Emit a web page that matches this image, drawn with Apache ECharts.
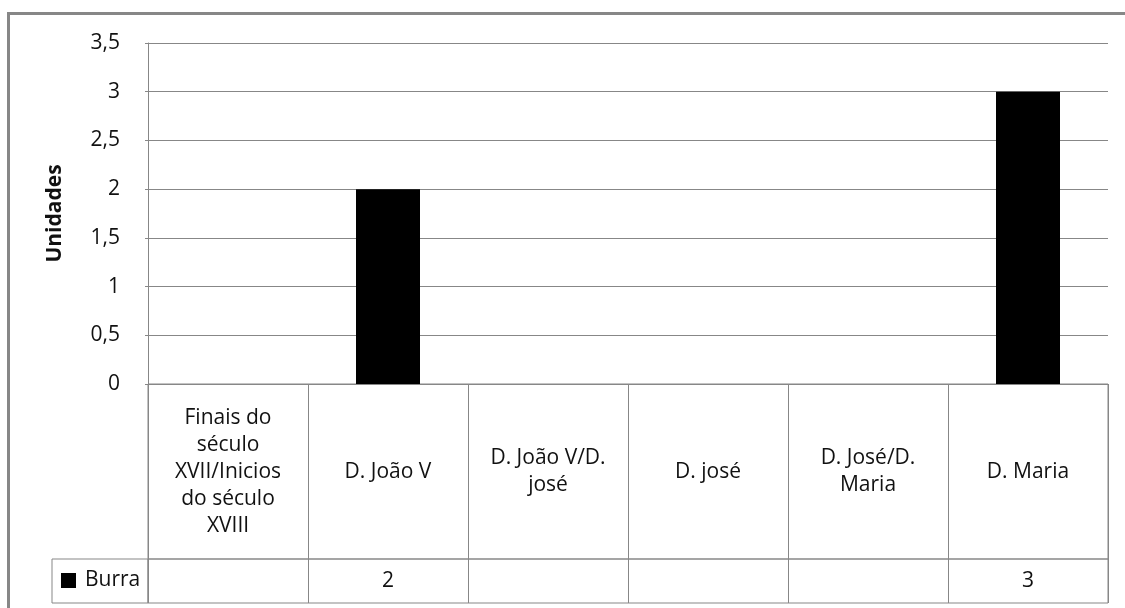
<!DOCTYPE html>
<html>
<head>
<meta charset="utf-8">
<script src="https://cdn.jsdelivr.net/npm/echarts@6/dist/echarts.min.js"></script>
<style>
  html, body { margin: 0; padding: 0; background: #fff; overflow: hidden; }
  #frame { position: absolute; left: 7px; top: 12px; width: 1300px; height: 800px;
           border-top: 3px solid #878787; border-left: 3px solid #878787; }
  #chart { position: absolute; left: 0; top: 0; width: 1125px; height: 608px; }
</style>
</head>
<body>
<div id="frame"></div>
<div id="chart"></div>
<script>
// ---- data ----
const categories = [
  'Finais do século XVII/Inicios do século XVIII',
  'D. João V',
  'D. João V/D. josé',
  'D. josé',
  'D. José/D. Maria',
  'D. Maria'
];
const categoryLabels = [
  'Finais do\nséculo\nXVII/Inicios\ndo século\nXVIII',
  'D. João V',
  'D. João V/D.\njosé',
  'D. josé',
  'D. José/D.\nMaria',
  'D. Maria'
];
const seriesName = 'Burra';
const burraValues = [null, 2, null, null, null, 3];
const yTicks = { min: 0, max: 3.5, interval: 0.5 };
const yAxisTitle = 'Unidades';

// ---- chart ----
const GRAY = '#878787';
const FONT = 'Open Sans';
const FS = 21;
const TXT = '#111';
const chart = echarts.init(document.getElementById('chart'), null, { renderer: 'canvas' });

const hiddenAxis = (gi, type) => ({
  gridIndex: gi, type: type, show: false, min: 0, max: 1,
  axisLine: { show: false }, axisTick: { show: false }, axisLabel: { show: false }, splitLine: { show: false }
});

chart.setOption({
  animation: false,
  backgroundColor: 'transparent',
  textStyle: { fontFamily: FONT, color: TXT },
  legend: {
    data: [seriesName],
    left: 61, top: 570, padding: 0,
    icon: 'rect', itemWidth: 15, itemHeight: 15,
    textStyle: { fontFamily: FONT, fontSize: FS, color: TXT, padding: [0, 0, 0, 4] },
    selectedMode: false
  },
  grid: [
    { left: 148, right: 17, top: 43, height: 341 },
    { left: 148, right: 17, top: 384, height: 175, show: true, borderColor: GRAY, borderWidth: 1 },
    { left: 148, right: 17, top: 559, height: 44, show: true, borderColor: GRAY, borderWidth: 1 },
    { left: 52, width: 96, top: 559, height: 44, show: true, borderColor: GRAY, borderWidth: 1 }
  ],
  xAxis: [
    { gridIndex: 0, type: 'category', data: categories,
      axisLine: { show: true, lineStyle: { color: GRAY } },
      axisTick: { show: false }, axisLabel: { show: false }, splitLine: { show: false } },
    { gridIndex: 1, type: 'category', data: categoryLabels, position: 'bottom',
      axisLine: { show: false }, axisTick: { show: false },
      splitLine: { show: true, lineStyle: { color: GRAY, width: 1 } },
      axisLabel: { inside: true, margin: 87, verticalAlign: 'middle', align: 'center',
                   fontFamily: FONT, fontSize: FS, lineHeight: 27, color: TXT, interval: 0 } },
    { gridIndex: 2, type: 'category', data: categories, position: 'bottom',
      axisLine: { show: false }, axisTick: { show: false },
      splitLine: { show: true, lineStyle: { color: GRAY, width: 1 } },
      axisLabel: { inside: true, margin: 22, verticalAlign: 'middle', align: 'center',
                   fontFamily: FONT, fontSize: FS, color: TXT, interval: 0,
                   formatter: (v, i) => (burraValues[i] == null ? '' : String(burraValues[i]).replace('.', ',')) } },
    hiddenAxis(3, 'value')
  ],
  yAxis: [
    { gridIndex: 0, type: 'value', min: yTicks.min, max: yTicks.max, interval: yTicks.interval,
      name: yAxisTitle, nameLocation: 'middle', nameRotate: 90, nameGap: 82,
      nameTextStyle: { fontFamily: FONT, fontSize: 21, fontWeight: 'bold', color: TXT },
      axisLine: { show: true, lineStyle: { color: GRAY } },
      axisTick: { show: true, length: 3, lineStyle: { color: GRAY } },
      splitLine: { show: true, lineStyle: { color: GRAY, width: 1 } },
      axisLabel: { margin: 28, fontFamily: FONT, fontSize: FS, color: TXT,
                   formatter: v => String(v).replace('.', ',') } },
    hiddenAxis(1, 'value'),
    hiddenAxis(2, 'value'),
    hiddenAxis(3, 'value')
  ],
  series: [
    { name: seriesName, type: 'bar', xAxisIndex: 0, yAxisIndex: 0,
      data: burraValues, barWidth: 64, itemStyle: { color: '#000' } }
  ]
});
</script>
</body>
</html>
